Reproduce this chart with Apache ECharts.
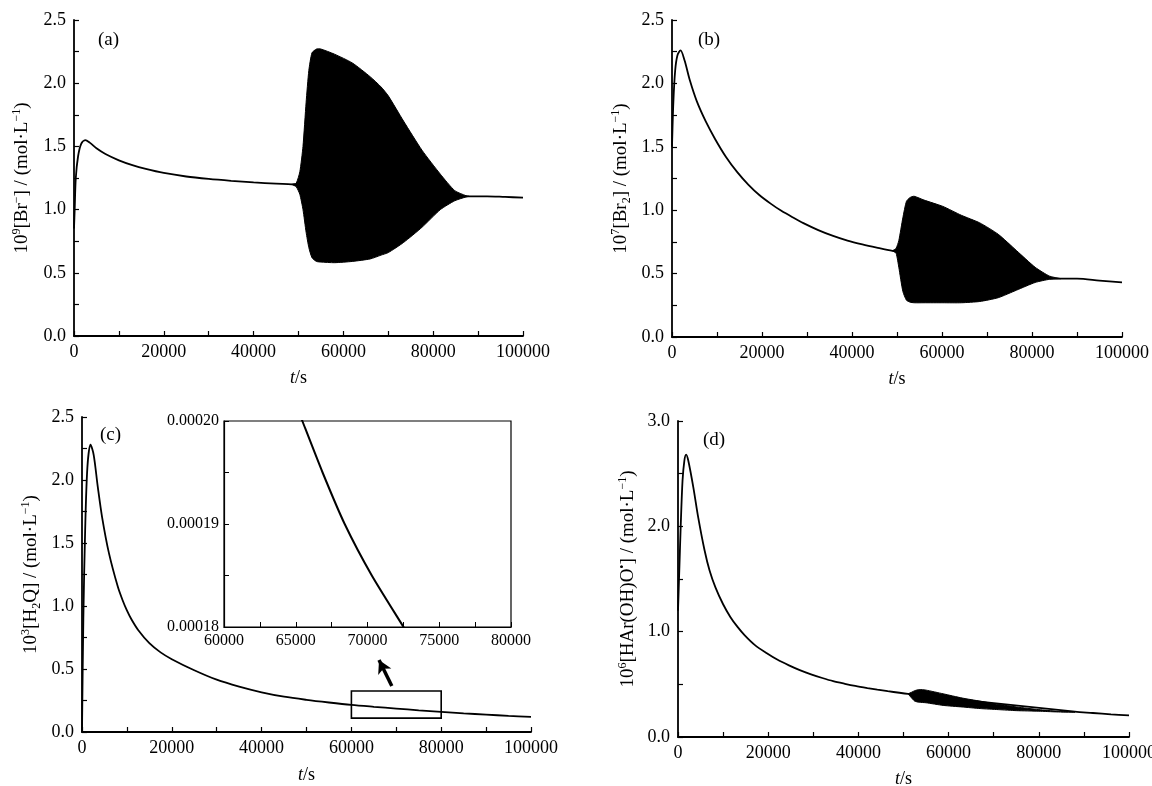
<!DOCTYPE html>
<html>
<head>
<meta charset="utf-8">
<script src="https://cdn.jsdelivr.net/npm/echarts@6/dist/echarts.min.js"></script>
<style>
  html, body { margin: 0; padding: 0; background: #fff; }
  #chart { width: 1152px; height: 786px; }
</style>
</head>
<body>
<div id="chart"></div>
<script>
// (a) [Br-] — smooth part and oscillation envelope
const brT = [0, 150, 400, 900, 1600, 2500, 3500, 5000, 7000, 10000, 13000, 16000, 20000, 25000, 30000, 35000, 40000, 45000, 48500, 88000, 92000, 96000, 100000];
const brV = [0.85, 1.0, 1.25, 1.42, 1.52, 1.55, 1.53, 1.485, 1.44, 1.39, 1.352, 1.322, 1.29, 1.262, 1.243, 1.228, 1.215, 1.205, 1.2, 1.105, 1.105, 1.1, 1.095];
const brBandT = [48500, 49500, 50300, 51000, 51700, 52300, 53000, 54000, 55000, 58000, 62000, 66000, 68400, 70000, 73400, 77500, 81600, 84800, 87300, 88000];
const brUpper = [1.2, 1.21, 1.3, 1.5, 1.85, 2.1, 2.24, 2.27, 2.27, 2.23, 2.16, 2.05, 1.97, 1.9, 1.7, 1.47, 1.28, 1.15, 1.11, 1.105];
const brLower = [1.2, 1.18, 1.12, 1.0, 0.82, 0.7, 0.62, 0.59, 0.585, 0.58, 0.59, 0.61, 0.64, 0.66, 0.74, 0.86, 1.0, 1.07, 1.1, 1.105];

// (b) [Br2]
const br2T = [0, 300, 700, 1200, 1900, 2800, 4000, 5500, 7500, 9600, 12000, 14500, 17000, 19400, 22000, 24300, 27000, 29200, 32500, 35800, 39000, 42300, 45500, 49000, 86400, 90000, 95000, 100000];
const br2V = [1.5, 1.85, 2.1, 2.22, 2.26, 2.18, 2.02, 1.86, 1.7, 1.56, 1.42, 1.3, 1.2, 1.12, 1.05, 0.995, 0.94, 0.898, 0.843, 0.797, 0.76, 0.73, 0.705, 0.68, 0.46, 0.46, 0.445, 0.43];
const br2BandT = [49000, 49800, 50400, 51300, 52100, 52900, 53800, 56000, 60200, 64300, 68400, 72500, 76600, 80700, 83900, 86400];
const br2Upper = [0.68, 0.7, 0.76, 0.94, 1.07, 1.1, 1.11, 1.08, 1.03, 0.96, 0.9, 0.81, 0.68, 0.55, 0.48, 0.46];
const br2Lower = [0.68, 0.66, 0.55, 0.36, 0.29, 0.275, 0.27, 0.27, 0.27, 0.27, 0.28, 0.31, 0.37, 0.43, 0.455, 0.46];

// (c) [H2Q]
const h2qT = [0, 300, 700, 1200, 1900, 2600, 3500, 4500, 6000, 8000, 9000, 10000, 11000, 12500, 15000, 17500, 20000, 25000, 30000, 35000, 40000, 45000, 50000, 55000, 60000, 65000, 70000, 75000, 80000, 85000, 90000, 95000, 100000];
const h2qV = [0, 0.9, 1.6, 2.1, 2.28, 2.2, 1.95, 1.7, 1.42, 1.15, 1.05, 0.965, 0.895, 0.81, 0.705, 0.632, 0.578, 0.49, 0.415, 0.36, 0.315, 0.28, 0.255, 0.234, 0.215, 0.2, 0.186, 0.172, 0.16, 0.148, 0.138, 0.128, 0.12];
// (c) inset, 60000–80000 s
const insetT = [65300, 65460, 66870, 68410, 70300, 72510, 72700];
const insetV = [0.0002006, 0.0002, 0.000195, 0.00019, 0.000185, 0.00018, 0.0001796];
const zoomBox = [[60000, 0.11], [80000, 0.325]];
const arrowPts = [[69000, 0.365], [66150, 0.571]];

// (d) [HAr(OH)O•]
const harT = [0, 300, 600, 1000, 1400, 1800, 2300, 3400, 4500, 5900, 7000, 8300, 10000, 11600, 13200, 14800, 17000, 19700, 22000, 24600, 27000, 29500, 32000, 34400, 37000, 39300, 42000, 44200, 46500, 49100, 51000, 88000, 92000, 96000, 100000];
const harV = [1.2, 1.6, 2.0, 2.43, 2.62, 2.68, 2.62, 2.37, 2.08, 1.77, 1.58, 1.42, 1.26, 1.14, 1.045, 0.965, 0.875, 0.795, 0.735, 0.68, 0.635, 0.595, 0.56, 0.53, 0.505, 0.485, 0.465, 0.45, 0.435, 0.42, 0.41, 0.24, 0.228, 0.215, 0.205];
const harBandT = [51000, 51800, 52500, 53500, 55000, 58800, 63000, 67000, 71000, 75100, 80000, 84000, 88000];
const harUpper = [0.41, 0.425, 0.44, 0.45, 0.445, 0.41, 0.37, 0.34, 0.31, 0.285, 0.26, 0.245, 0.24];
const harLower = [0.41, 0.37, 0.34, 0.33, 0.325, 0.3, 0.285, 0.27, 0.26, 0.25, 0.245, 0.238, 0.235];

const FONT = 'Liberation Serif';
const pair = (xs, ys) => xs.map((x, i) => [x, ys[i]]);

const rich = {
  sup: { fontFamily: FONT, fontSize: 12, lineHeight: 12, verticalAlign: 'top', color: '#000' },
  sub: { fontFamily: FONT, fontSize: 12, lineHeight: 12, verticalAlign: 'bottom', color: '#000' },
  it: { fontFamily: FONT, fontSize: 18, fontStyle: 'italic', color: '#000' },
};

function xAxisOf(gi, gap) {
  return {
    type: 'value', gridIndex: gi, min: 0, max: 100000, interval: 10000,
    name: '{it|t}/s', nameLocation: 'middle', nameGap: gap,
    nameTextStyle: { fontFamily: FONT, fontSize: 18, color: '#000', rich: rich },
    axisLine: { lineStyle: { color: '#000', width: 1.8 } },
    axisTick: { inside: true, length: 5, lineStyle: { color: '#000', width: 1.2 } },
    axisLabel: { fontFamily: FONT, fontSize: 18, color: '#000', margin: 7,
      formatter: v => (v % 20000 === 0 ? String(v) : '') },
    splitLine: { show: false },
  };
}

function yAxisOf(gi, max, step, name, gap) {
  return {
    type: 'value', gridIndex: gi, min: 0, max: max, interval: step / 2,
    name: name, nameLocation: 'middle', nameGap: gap,
    nameTextStyle: { fontFamily: FONT, fontSize: 19, lineHeight: 23, color: '#000', rich: rich },
    axisLine: { lineStyle: { color: '#000', width: 1.8 } },
    axisTick: { inside: true, length: 5, lineStyle: { color: '#000', width: 1.2 } },
    axisLabel: { fontFamily: FONT, fontSize: 18, color: '#000', margin: 8,
      formatter: v => (Math.round(v * 100) % Math.round(step * 100) === 0 ? v.toFixed(1) : '') },
    splitLine: { show: false },
  };
}

function lineOf(idx, xs, ys) {
  return {
    type: 'line', xAxisIndex: idx, yAxisIndex: idx, data: pair(xs, ys),
    showSymbol: false, smooth: 0.3, lineStyle: { color: '#000', width: 1.8 }, silent: true,
  };
}

function bandOf(idx, ts, up, lo) {
  return {
    type: 'custom', xAxisIndex: idx, yAxisIndex: idx, data: [[ts[0], up[0]]], silent: true,
    renderItem: function (params, api) {
      const pts = [];
      for (let i = 0; i < ts.length; i++) pts.push(api.coord([ts[i], up[i]]));
      for (let i = ts.length - 1; i >= 0; i--) pts.push(api.coord([ts[i], lo[i]]));
      return { type: 'polygon', shape: { points: pts, smooth: 0.2 }, style: { fill: '#000', stroke: '#000', lineWidth: 1 } };
    },
  };
}

const chart = echarts.init(document.getElementById('chart'));

const h2qLine = lineOf(2, h2qT, h2qV);
h2qLine.markArea = {
  silent: true,
  itemStyle: { color: 'rgba(0,0,0,0)', borderColor: '#000', borderWidth: 1.6 },
  data: [[{ coord: zoomBox[0] }, { coord: zoomBox[1] }]],
};
h2qLine.markLine = {
  silent: true, symbol: ['none', 'arrow'], symbolSize: [11, 13],
  label: { show: false },
  lineStyle: { color: '#000', width: 3.5, type: 'solid' },
  data: [[{ coord: arrowPts[0] }, { coord: arrowPts[1] }]],
};

const insetLine = lineOf(4, insetT, insetV);
insetLine.smooth = 0.2;
insetLine.lineStyle = { color: '#000', width: 2 };

const option = {
  animation: false,
  backgroundColor: '#fff',
  grid: [
    { left: 74, top: 20, width: 449, height: 316, outerBoundsMode: 'none' },
    { left: 672, top: 20, width: 450, height: 317, outerBoundsMode: 'none' },
    { left: 82, top: 417, width: 449, height: 315, outerBoundsMode: 'none' },
    { left: 678, top: 421, width: 451, height: 316, outerBoundsMode: 'none' },
    { left: 224, top: 421, width: 287, height: 206, show: true, borderColor: '#000', borderWidth: 1.2,
      backgroundColor: '#fff', outerBoundsMode: 'none' },
  ],
  xAxis: [
    xAxisOf(0, 33),
    xAxisOf(1, 33),
    xAxisOf(2, 34),
    xAxisOf(3, 33),
    {
      type: 'value', gridIndex: 4, min: 60000, max: 80000, interval: 2500,
      axisLine: { lineStyle: { color: '#000', width: 1.2 } },
      axisTick: { inside: true, length: 5, lineStyle: { color: '#000', width: 1 } },
      axisLabel: { fontFamily: FONT, fontSize: 16, color: '#000', margin: 6,
        formatter: v => (v % 5000 === 0 ? String(v) : '') },
      splitLine: { show: false },
    },
  ],
  yAxis: [
    yAxisOf(0, 2.5, 0.5, '10{sup|9}[Br{sup|−}] / (mol·L{sup|−1})', 40),
    yAxisOf(1, 2.5, 0.5, '10{sup|7}[Br{sub|2}] / (mol·L{sup|−1})', 39),
    yAxisOf(2, 2.5, 0.5, '10{sup|3}[H{sub|2}Q] / (mol·L{sup|−1})', 39),
    yAxisOf(3, 3.0, 1.0, '10{sup|6}[HAr(OH)O{sup|•}] / (mol·L{sup|−1})', 38),
    {
      type: 'value', gridIndex: 4, min: 0.00018, max: 0.0002, interval: 0.000005,
      axisLine: { lineStyle: { color: '#000', width: 1.2 } },
      axisTick: { inside: true, length: 5, lineStyle: { color: '#000', width: 1 } },
      axisLabel: { fontFamily: FONT, fontSize: 16, color: '#000', margin: 5,
        formatter: v => (Math.round(v * 1e6) % 10 === 0 ? v.toFixed(5) : '') },
      splitLine: { show: false },
    },
  ],
  graphic: [
    { type: 'text', left: 98, top: 31, style: { text: '(a)', font: '19px "Liberation Serif"', fill: '#000' } },
    { type: 'text', left: 698, top: 31, style: { text: '(b)', font: '19px "Liberation Serif"', fill: '#000' } },
    { type: 'text', left: 100, top: 426, style: { text: '(c)', font: '19px "Liberation Serif"', fill: '#000' } },
    { type: 'text', left: 703, top: 431, style: { text: '(d)', font: '19px "Liberation Serif"', fill: '#000' } },
  ],
  series: [
    lineOf(0, brT, brV),
    bandOf(0, brBandT, brUpper, brLower),
    lineOf(1, br2T, br2V),
    bandOf(1, br2BandT, br2Upper, br2Lower),
    h2qLine,
    lineOf(3, harT, harV),
    bandOf(3, harBandT, harUpper, harLower),
    insetLine,
  ],
};

chart.setOption(option);
</script>
</body>
</html>
